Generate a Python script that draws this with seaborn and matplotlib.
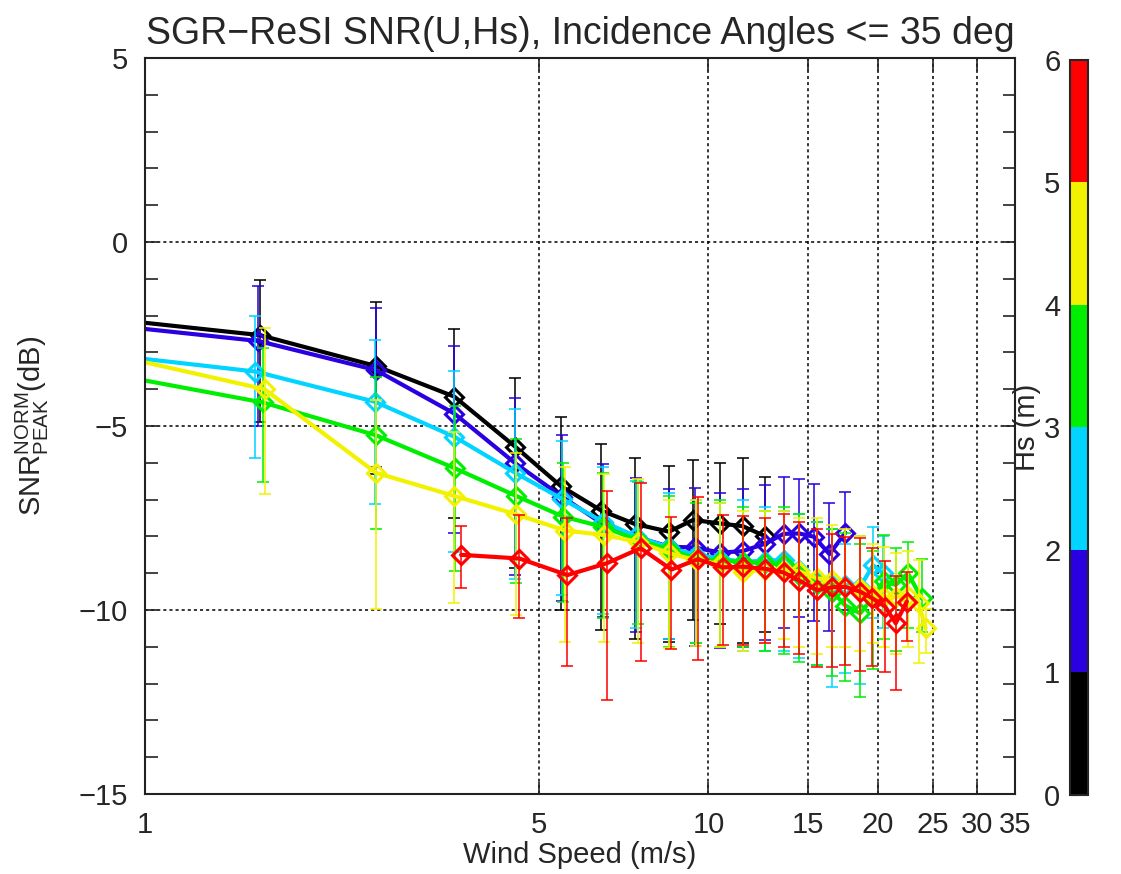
import numpy as np
import pandas as pd
import matplotlib
matplotlib.use("Agg")
import matplotlib.pyplot as plt
import seaborn as sns
from matplotlib.colors import ListedColormap, BoundaryNorm
from matplotlib.ticker import FixedLocator, FixedFormatter, MultipleLocator, NullLocator
import matplotlib.colorbar as mcolorbar

# ---------------- data ----------------
hs_bins = ["0-1", "1-2", "2-3", "3-4", "4-5", "5-6"]
hs_colors = ["#000000", "#2a00e0", "#00d4ff", "#00ee00", "#f2f200", "#ff0000"]

u_hs1 = [0.6, 1.60, 2.57, 3.54, 4.54, 5.47, 6.46, 7.40, 8.51, 9.40, 10.5, 11.5, 12.6]
snr_hs1 = [-1.83, -2.53, -3.37, -4.20, -5.56, -6.63, -7.30, -7.66, -7.87, -7.55, -7.65, -7.72, -7.99]
top_hs1 = [0.0, -1.03, -1.62, -2.37, -3.70, -4.76, -5.49, -5.86, -6.08, -5.92, -6.00, -5.88, -6.38]
bot_hs1 = [-4.0, -4.88, -6.29, -7.51, -8.87, -10.0, -10.54, -10.80, -10.86, -10.27, -10.38, -10.90, -10.60]

u_hs2 = [0.6, 1.59, 2.57, 3.54, 4.54, 5.50, 6.49, 7.45, 8.51, 9.45, 10.5, 11.5, 12.6, 13.6, 14.5, 15.4, 16.4, 17.5]
snr_hs2 = [-2.00, -2.69, -3.48, -4.66, -6.01, -6.92, -7.66, -8.01, -8.28, -8.30, -8.44, -8.40, -8.20, -7.93, -7.92, -8.01, -8.48, -7.90]
top_hs2 = [0.0, -1.20, -1.78, -2.83, -4.25, -5.24, -6.03, -6.40, -6.72, -6.69, -6.83, -6.72, -6.60, -6.38, -6.45, -6.58, -7.08, -6.78]
bot_hs2 = [-4.0, -4.99, -6.10, -7.90, -9.05, -9.75, -10.18, -10.59, -10.79, -10.98, -11.04, -11.00, -10.82, -10.50, -10.20, -10.29, -10.56, -10.00]

u_hs3 = [0.6, 1.57, 2.56, 3.54, 4.54, 5.50, 6.50, 7.45, 8.51, 9.50, 10.5, 11.5, 12.6, 13.6, 14.5, 15.6, 16.6, 17.5, 18.6, 19.6, 20.4]
snr_hs3 = [-2.79, -3.52, -4.34, -5.29, -6.27, -6.98, -7.60, -8.00, -8.30, -8.50, -8.60, -8.69, -8.66, -8.64, -8.91, -9.23, -9.33, -9.32, -9.37, -8.78, -9.00]
top_hs3 = [0.0, -2.01, -2.66, -3.50, -4.55, -5.40, -6.10, -6.50, -6.83, -7.00, -7.10, -7.00, -7.20, -7.30, -7.40, -7.60, -7.80, -8.20, -8.00, -7.74, -8.00]
bot_hs3 = [-5.0, -5.88, -7.12, -8.41, -9.15, -9.59, -10.10, -10.50, -10.80, -10.90, -11.00, -11.10, -11.10, -11.10, -11.30, -11.50, -12.10, -11.70, -12.00, -10.23, -10.50]

u_hs4 = [0.6, 1.62, 2.57, 3.55, 4.56, 5.52, 6.50, 7.50, 8.50, 9.50, 10.5, 11.5, 12.6, 13.6, 14.5, 15.6, 16.6, 17.5, 18.6, 19.6, 20.5, 21.5, 22.6, 23.9]
snr_hs4 = [-3.13, -4.36, -5.25, -6.15, -6.90, -7.46, -7.74, -8.10, -8.35, -8.60, -8.66, -8.69, -8.73, -8.75, -9.05, -9.28, -9.50, -9.88, -10.09, -9.65, -9.20, -9.32, -9.00, -9.68]
top_hs4 = [0.0, -2.89, -3.66, -4.46, -5.36, -6.00, -6.27, -6.51, -6.90, -7.10, -7.00, -7.20, -7.30, -7.20, -7.40, -7.60, -7.80, -7.90, -8.20, -8.40, -7.96, -8.32, -8.14, -8.60]
bot_hs4 = [-6.0, -6.52, -7.81, -8.94, -9.26, -9.77, -10.23, -10.38, -11.00, -10.90, -11.00, -11.00, -11.10, -11.20, -11.40, -11.50, -11.80, -11.92, -12.37, -11.60, -10.80, -11.10, -10.50, -10.60]

u_hs5 = [0.6, 1.63, 2.57, 3.54, 4.56, 5.57, 6.53, 7.50, 8.50, 9.50, 10.5, 11.5, 12.6, 13.6, 14.5, 15.6, 16.6, 17.5, 18.6, 19.6, 20.5, 21.5, 22.6, 23.6, 24.3]
snr_hs5 = [-2.50, -4.00, -6.27, -6.90, -7.40, -7.84, -7.96, -8.15, -8.45, -8.65, -8.75, -8.96, -8.90, -8.90, -8.95, -9.14, -9.18, -9.37, -9.41, -9.59, -9.64, -9.64, -9.62, -9.80, -10.50]
top_hs5 = [0.0, -2.33, -4.29, -5.15, -5.74, -6.10, -6.30, -6.45, -7.00, -7.00, -7.10, -7.30, -7.30, -7.30, -7.50, -7.50, -7.70, -7.80, -8.00, -8.20, -8.30, -8.44, -8.40, -8.64, -9.98]
bot_hs5 = [-5.0, -6.86, -9.98, -9.82, -10.14, -10.86, -10.86, -10.90, -11.03, -10.98, -11.00, -11.10, -10.90, -10.80, -11.00, -11.20, -11.00, -11.00, -11.10, -10.90, -11.00, -11.20, -11.00, -11.43, -11.18]

u_hs6 = [3.64, 4.62, 5.62, 6.60, 7.58, 8.60, 9.57, 10.6, 11.5, 12.6, 13.6, 14.5, 15.6, 16.6, 17.5, 18.6, 19.5, 20.6, 21.5, 22.5]
snr_hs6 = [-8.50, -8.60, -9.05, -8.73, -8.32, -8.90, -8.62, -8.84, -8.82, -8.88, -8.98, -9.20, -9.46, -9.38, -9.37, -9.50, -9.67, -9.91, -10.36, -9.77]
top_hs6 = [-7.73, -7.42, -7.51, -6.76, -6.56, -7.46, -6.92, -7.42, -7.45, -7.50, -7.40, -7.60, -7.80, -7.93, -8.01, -8.05, -8.32, -8.66, -9.08, -8.96]
bot_hs6 = [-9.39, -10.23, -11.51, -12.45, -11.39, -11.05, -11.36, -10.95, -10.95, -10.90, -11.00, -11.20, -11.54, -11.54, -11.50, -11.65, -11.52, -11.68, -12.17, -10.83]

x_ticks = [1, 5, 10, 15, 20, 25, 30, 35]
x_ticklabels = ["1", "5", "10", "15", "20", "25", "30", "35"]
cbar_ticks = [0, 1, 2, 3, 4, 5, 6]

series = [
    (u_hs1, snr_hs1, top_hs1, bot_hs1),
    (u_hs2, snr_hs2, top_hs2, bot_hs2),
    (u_hs3, snr_hs3, top_hs3, bot_hs3),
    (u_hs4, snr_hs4, top_hs4, bot_hs4),
    (u_hs5, snr_hs5, top_hs5, bot_hs5),
    (u_hs6, snr_hs6, top_hs6, bot_hs6),
]

# ---------------- style ----------------
sns.set_style("ticks")
FAM = ["Liberation Sans Narrow", "Liberation Sans", "DejaVu Sans"]
plt.rcParams["font.family"] = FAM
plt.rcParams["mathtext.fontset"] = "custom"
plt.rcParams["mathtext.rm"] = "Liberation Sans"
plt.rcParams["mathtext.it"] = "Liberation Sans"
plt.rcParams["axes.unicode_minus"] = True

fig = plt.figure(figsize=(11.21, 8.74), dpi=100)
ax = fig.add_axes([0.1293, 0.0915, 0.7761, 0.8421])
cax = fig.add_axes([0.9545, 0.0904, 0.0161, 0.8410])

for (u, s, t, b), label, col in zip(series, hs_bins, hs_colors):
    u = np.asarray(u); s = np.asarray(s); t = np.asarray(t); b = np.asarray(b)
    ax.errorbar(u, s, yerr=[s - b, t - s], fmt="none", ecolor=col,
                elinewidth=1.4, capsize=4, capthick=1.4, alpha=0.8)
    df = pd.DataFrame({"U": u, "SNR": s, "Hs": label})
    sns.lineplot(data=df, x="U", y="SNR", ax=ax, color=col, marker="D",
                 markersize=9, markerfacecolor="none", markeredgecolor=col,
                 markeredgewidth=2.2, linewidth=3.0, estimator=None, sort=False,
                 legend=False)

ax.set_xscale("log")
ax.set_xlim(1, 35)
ax.set_ylim(-15, 5)
ax.xaxis.set_major_locator(FixedLocator(x_ticks))
ax.xaxis.set_major_formatter(FixedFormatter(x_ticklabels))
ax.xaxis.set_minor_locator(NullLocator())
ax.yaxis.set_major_locator(MultipleLocator(5))
ax.yaxis.set_minor_locator(MultipleLocator(1))
ax.tick_params(which="both", direction="in", top=True, right=True,
               length=9, width=1.2, labelsize=21, pad=12, color="#222222")
ax.grid(True, which="major", linestyle=(0, (2, 2)), color="k", linewidth=1.1)
for sp in ax.spines.values():
    sp.set_linewidth(1.5)
    sp.set_color("#222222")

ax.set_xlabel("Wind Speed (m/s)", fontsize=21, labelpad=2)
ax.set_ylabel(r"SNR$_{\mathrm{PEAK}}^{\mathrm{NORM}}$(dB)", fontsize=21, labelpad=20)
ax.set_title("SGR\u2212ReSI SNR(U,Hs), Incidence Angles <= 35 deg", fontsize=27, pad=10)

cmap = ListedColormap(hs_colors)
norm = BoundaryNorm(cbar_ticks, cmap.N)
cb = mcolorbar.ColorbarBase(cax, cmap=cmap, norm=norm, ticks=cbar_ticks, orientation="vertical")
cax.yaxis.set_ticks_position("left")
cax.yaxis.set_label_position("left")
cax.yaxis.set_minor_locator(MultipleLocator(0.5))
cax.tick_params(which="both", direction="in", length=5, labelsize=21, pad=7)
cb.set_label("Hs (m)", fontsize=21, labelpad=2)
cb.outline.set_linewidth(1.5)

fig.savefig("out.png", dpi=100)
